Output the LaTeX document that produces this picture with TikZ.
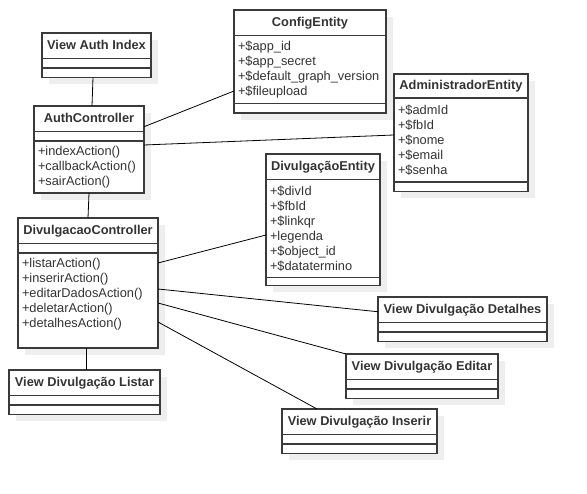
\documentclass[tikz,border=0pt]{standalone}
\usepackage{fontspec}
\setmainfont{Liberation Sans}
\usepackage{xcolor}
\usepackage{tikz}
\usetikzlibrary{
	positioning,shadows
}
\definecolor{boxgray}{HTML}{3A3A3A}
\definecolor{textgray}{HTML}{333333}
\definecolor{shadowgray}{HTML}{EEEEEE}
\newcommand{\umlfont}{\fontsize{12.8pt}{15pt}\selectfont\hyphenpenalty=10000\exhyphenpenalty=10000}
\tikzset{
	umlbox/.style={draw=boxgray,line width=1.1pt,fill=white,text=textgray,inner sep=0pt,outer sep=0pt,
		drop shadow={shadow xshift=7pt,shadow yshift=-7pt,fill=shadowgray,opacity=1}},
	umltitle/.style={umlbox,anchor=north west,minimum width=#1,minimum height=25.5pt,
		font=\umlfont\bfseries,text height=9.2pt,text depth=2.6pt},
	umlpart/.style={umlbox,minimum width=#1,minimum height=9.5pt,font=\umlfont,align=left,inner xsep=4pt},
	assoc/.style={draw=black,line width=0.8pt}
}
\begin{document}
\begin{tikzpicture}[x=1pt,y=-1pt]
		\useasboundingbox (0,0) rectangle (587,494);
		%
		\node[umltitle=109pt] (vauth) at (42,33) {View Auth Index};
		\node[umlpart=109pt,below=0pt of vauth] (vauth-a) {};
		\node[umlpart=109pt,below=0pt of vauth-a] (vauth-m) {};
		%
		\node[umltitle=110pt] (auth) at (34,106) {AuthController};
		\node[umlpart=110pt,below=0pt of auth] (auth-a) {};
		\node[umlpart=110pt,below=0pt of auth-a,minimum height=52pt,text width=102pt] (auth-m)
			{+indexAction()\\+callbackAction()\\+sairAction()};
		%
		\node[umltitle=140pt] (divc) at (18,218) {DivulgacaoController};
		\node[umlpart=140pt,below=0pt of divc] (divc-a) {};
		\node[umlpart=140pt,below=0pt of divc-a,minimum height=95pt,text width=132pt] (divc-m)
			{+listarAction()\\+inserirAction()\\+editarDadosAction()\\+deletarAction()\\+detalhesAction()\\\mbox{}};
		%
		\node[umltitle=151pt] (vlistar) at (9,370) {View Divulgação Listar};
		\node[umlpart=151pt,below=0pt of vlistar] (vlistar-a) {};
		\node[umlpart=151pt,below=0pt of vlistar-a] (vlistar-m) {};
		%
		\node[umltitle=152pt] (config) at (234,10) {ConfigEntity};
		\node[umlpart=152pt,below=0pt of config,minimum height=68pt,text width=144pt] (config-a)
			{+\$app\_id\\+\$app\_secret\\+\$default\_graph\_version\\+\$fileupload};
		\node[umlpart=152pt,below=0pt of config-a] (config-m) {};
		%
		\node[umltitle=134pt,minimum height=24pt] (admin) at (394,74) {AdministradorEntity};
		\node[umlpart=134pt,below=0pt of admin,minimum height=84pt,text width=126pt] (admin-a)
			{+\$admId\\+\$fbId\\+\$nome\\+\$email\\+\$senha};
		\node[umlpart=134pt,below=0pt of admin-a] (admin-m) {};
		%
		\node[umltitle=114pt] (divent) at (266,154) {DivulgaçãoEntity};
		\node[umlpart=114pt,below=0pt of divent,minimum height=98pt,text width=106pt] (divent-a)
			{+\$divId\\+\$fbId\\+\$linkqr\\+legenda\\+\$object\_id\\+\$datatermino};
		\node[umlpart=114pt,below=0pt of divent-a,minimum height=8pt] (divent-m) {};
		%
		\node[umltitle=169pt] (vdetal) at (378,297) {View Divulgação Detalhes};
		\node[umlpart=169pt,below=0pt of vdetal] (vdetal-a) {};
		\node[umlpart=169pt,below=0pt of vdetal-a] (vdetal-m) {};
		%
		\node[umltitle=152pt] (veditar) at (346,354) {View Divulgação Editar};
		\node[umlpart=152pt,below=0pt of veditar] (veditar-a) {};
		\node[umlpart=152pt,below=0pt of veditar-a] (veditar-m) {};
		%
		\node[umltitle=155pt] (vinserir) at (282,409) {View Divulgação Inserir};
		\node[umlpart=155pt,below=0pt of vinserir] (vinserir-a) {};
		\node[umlpart=155pt,below=0pt of vinserir-a] (vinserir-m) {};
		%
		\path[assoc]
			([xshift=-3.5pt]vauth-m.south) edge ([xshift=3pt]auth.north)
			(auth-m.south) edge (divc.north)
			([xshift=-2pt]divc-m.south) edge ([xshift=1.5pt]vlistar.north)
			([yshift=-8pt]auth.east) edge ([yshift=-21.5pt]config-a.west)
			([yshift=22pt]auth-m.east) edge ([yshift=5pt]admin-a.west)
			([yshift=37.5pt]divc-m.east) edge ([yshift=-6.5pt]divent-a.west)
			([yshift=11.5pt]divc-m.east) edge ([yshift=-2pt]vdetal.west)
			([yshift=-2.5pt]divc-m.east) edge (veditar.north west)
			([yshift=-21.5pt]divc-m.east) edge ([xshift=-42.5pt]vinserir.north);
	\end{tikzpicture}
\end{document}
